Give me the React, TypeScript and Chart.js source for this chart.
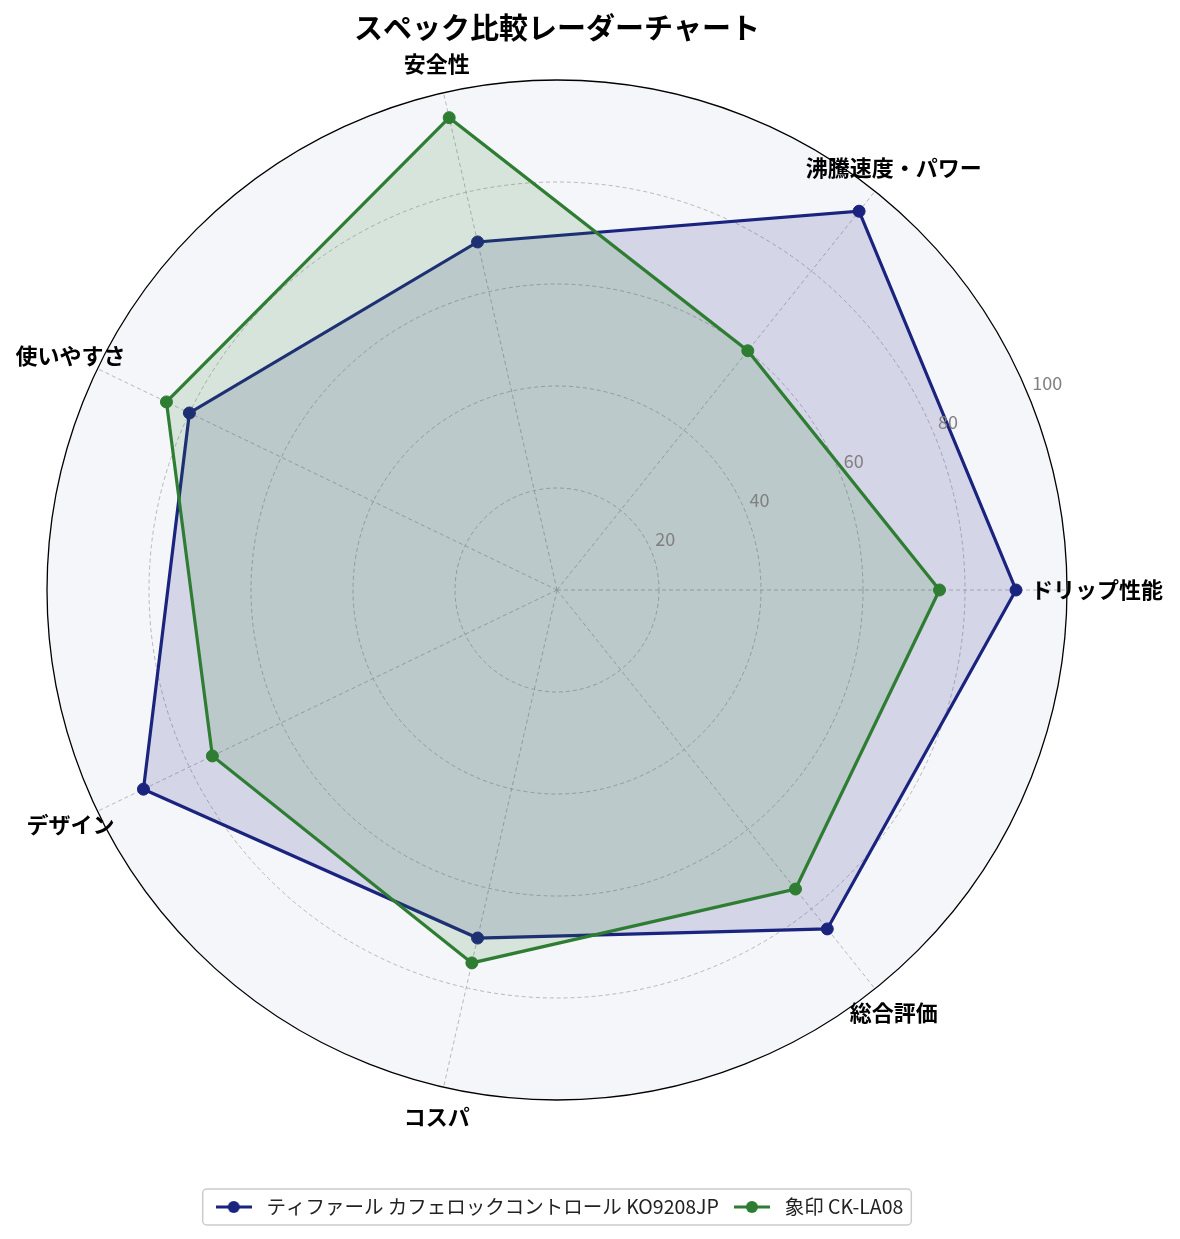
import { useEffect, useRef } from "react";
import { Chart, registerables } from "chart.js";

Chart.register(...registerables);

const categories = ["ドリップ性能", "沸騰速度・パワー", "安全性", "使いやすさ", "デザイン", "コスパ", "総合評価"];
const seriesNames = ["ティファール カフェロックコントロール KO9208JP", "象印 CK-LA08"];
const tfalValues = [90, 95, 70, 80, 90, 70, 85];
const zojirushiValues = [75, 60, 95, 85, 75, 75, 75];
const tickValues = [20, 40, 60, 80, 100];

const FONT = '"Noto Sans CJK JP", "Noto Sans", sans-serif';
const colors = ["#1a237e", "#2e7d32"];
const fills = ["rgba(26,35,126,0.15)", "rgba(46,125,50,0.15)"];

// matplotlib goes counter-clockwise from the right, chart.js clockwise
const order = [0, 6, 5, 4, 3, 2, 1];

function markerCanvas(color: string) {
  const c = document.createElement("canvas");
  c.width = 36;
  c.height = 14;
  const g = c.getContext("2d")!;
  g.strokeStyle = color;
  g.lineWidth = 3;
  g.beginPath();
  g.moveTo(0, 7);
  g.lineTo(36, 7);
  g.stroke();
  g.fillStyle = color;
  g.beginPath();
  g.arc(18, 7, 6, 0, Math.PI * 2);
  g.fill();
  return c;
}

const radarText = {
  id: "radarText",
  afterDraw(chart: any) {
    const scale = chart.scales.r;
    const ctx = chart.ctx;
    ctx.save();
    // category labels, centred just outside the circle
    ctx.font = `bold 22px ${FONT}`;
    ctx.fillStyle = "#000";
    ctx.textAlign = "center";
    ctx.textBaseline = "middle";
    chart.data.labels.forEach((label: string, i: number) => {
      const p = scale.getPointPosition(i, scale.drawingArea + 30);
      ctx.fillText(label, p.x, p.y);
    });
    // radial tick labels at 22.5 degrees
    ctx.font = `18px ${FONT}`;
    ctx.fillStyle = "#808080";
    ctx.textAlign = "left";
    ctx.textBaseline = "bottom";
    const a = (22.5 * Math.PI) / 180;
    tickValues.forEach((v) => {
      const d = scale.getDistanceFromCenterForValue(v);
      ctx.fillText(String(v), scale.xCenter + d * Math.cos(a) + 4, scale.yCenter - d * Math.sin(a) - 3);
    });
    // legend frame
    const boxes = chart.legend?.legendHitBoxes || [];
    if (boxes.length) {
      const left = Math.min(...boxes.map((b: any) => b.left)) - 8;
      const right = Math.max(...boxes.map((b: any) => b.left + b.width)) + 8;
      const top = boxes[0].top + boxes[0].height / 2 - 18;
      ctx.strokeStyle = "#cccccc";
      ctx.lineWidth = 1.5;
      ctx.beginPath();
      ctx.roundRect(left, top, right - left, 36, 4);
      ctx.stroke();
    }
    ctx.restore();
  },
};

function RadarChart() {
  const chartRef = useRef<HTMLCanvasElement | null>(null);
  useEffect(() => {
    const ctx = chartRef.current?.getContext("2d");
    if (!ctx) return;
    const series = [tfalValues, zojirushiValues];
    const chart = new Chart(ctx, {
      type: "radar",
      data: {
        labels: order.map((i) => categories[i]),
        datasets: series.map((vals, k) => ({
          label: seriesNames[k],
          data: order.map((i) => vals[i]),
          borderColor: colors[k],
          backgroundColor: fills[k],
          borderWidth: 3.2,
          fill: true,
          pointRadius: 6,
          pointBorderWidth: 1,
          pointBackgroundColor: colors[k],
          pointBorderColor: colors[k],
          order: k === 0 ? 1 : 0,
        })),
      },
      options: {
        responsive: true,
        maintainAspectRatio: false,
        animation: false,
        layout: { padding: { top: 0, left: 47, right: 113, bottom: 12.25 } },
        scales: {
          r: {
            min: 0,
            max: 100,
            startAngle: 90,
            backgroundColor: "#f5f6fa",
            ticks: { stepSize: 20, display: false },
            pointLabels: { display: false },
            grid: {
              circular: true,
              color: (c: any) => (c.tick?.value === 100 ? "#000000" : "#a8a8a8"),
              lineWidth: (c: any) => (c.tick?.value === 100 ? 1.3 : 0.8),
            },
            border: {
              dash: (c: any) => (c.tick?.value === 100 ? [] : [4, 3]),
            } as any,
            angleLines: { color: "#a8a8a8", lineWidth: 0.8, borderDash: [4, 3] },
          },
        },
        plugins: {
          title: {
            display: true,
            text: "スペック比較レーダーチャート",
            color: "#000",
            font: { family: FONT, size: 29, weight: "bold" },
            padding: { top: 10.6, bottom: 34.6 },
          },
          legend: {
            position: "bottom",
            title: { display: true, text: "", font: { size: 12 }, padding: { top: 72.85, bottom: 0 } },
            labels: {
              usePointStyle: true,
              pointStyleWidth: 46,
              color: "#222",
              font: { family: FONT, size: 19.5 },
              padding: 10,
              sort: (a: any, b: any) => a.datasetIndex - b.datasetIndex,
              generateLabels: (ch: any) =>
                Chart.defaults.plugins.legend.labels
                  .generateLabels(ch)
                  .map((item: any) => ({ ...item, pointStyle: markerCanvas(colors[item.datasetIndex]) })),
            },
          },
          tooltip: { enabled: false },
        },
      },
      plugins: [radarText],
    });
    return () => chart.destroy();
  }, []);
  return (
    <div style={{ position: "absolute", left: 0, top: 0, width: 1180, height: 1239 }}>
      <canvas ref={chartRef}></canvas>
    </div>
  );
}

export default function App() {
  return <RadarChart />;
}
